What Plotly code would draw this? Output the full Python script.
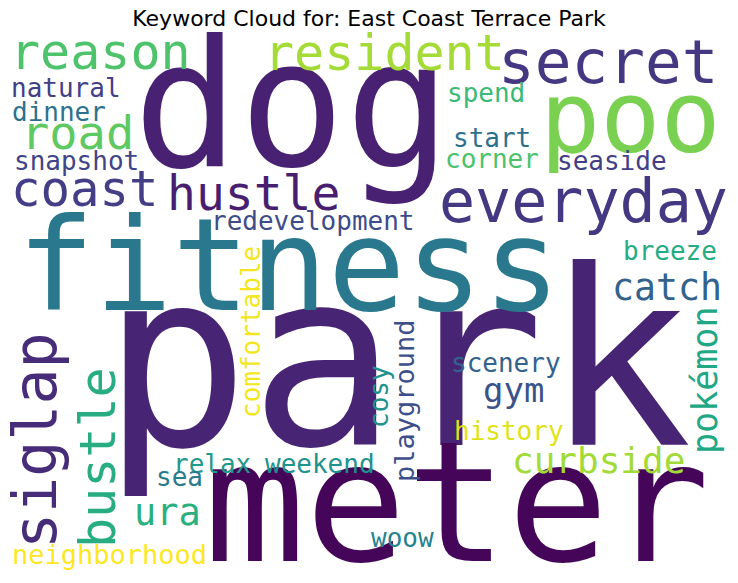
import plotly.graph_objects as go

# word cloud layout (canvas 722 x 542, origin top-left)
words = ["park", "dog", "meter", "fitness", "poo", "secret", "everyday", "siglap",
         "reason", "resident", "bustle", "coast", "hustle", "road", "ura", "catch",
         "curbside", "pokémon", "gym", "playground", "neighborhood", "spend", "start",
         "corner", "seaside", "breeze", "redevelopment", "comfortable", "scenery",
         "history", "cosy", "woow", "weekend", "relax", "sea", "snapshot", "natural",
         "dinner"]
weights = [0.980, 0.704, 0.672, 0.516, 0.400, 0.244, 0.240, 0.240,
           0.200, 0.200, 0.200, 0.196, 0.192, 0.188, 0.148, 0.146,
           0.144, 0.140, 0.136, 0.108, 0.108, 0.104, 0.104,
           0.104, 0.104, 0.104, 0.104, 0.104, 0.104,
           0.104, 0.104, 0.104, 0.104, 0.104, 0.104, 0.104, 0.104,
           0.104]
xpos = [389, 284, 449, 281, 622, 600, 575, 27,
        92, 376, 90, 77, 245, 69, 159, 659,
        590, 697, 505, 396, 101, 478, 484,
        484, 604, 662, 305, 243, 498,
        501, 371, 394, 312, 204, 171, 68, 58,
        51]
ypos = [328, 73, 471, 233, 85, 29, 169, 409,
        20, 21, 426, 157, 161, 100, 480, 255,
        428, 348, 358, 369, 522, 61, 106,
        127, 129, 219, 189, 300, 331,
        399, 365, 506, 432, 432, 445, 129, 56,
        80]
vertical = ["siglap", "bustle", "pokémon", "playground", "comfortable", "cosy"]
colors = ["#482475", "#482173", "#450559", "#2a788e", "#7ad151", "#453781", "#453882", "#472c7a",
          "#4ec36b", "#a5db36", "#27ad81", "#433e85", "#481f70", "#5ec962", "#2ab07f", "#33638d",
          "#a2da37", "#22a785", "#3b528b", "#3c4f8a", "#fde725", "#3aba76", "#2d708e",
          "#4cc26c", "#433e85", "#25ac82", "#3e4c8a", "#f4e61e", "#33638d",
          "#dde318", "#21918c", "#26828e", "#20928c", "#1f9a8a", "#2a7b8e", "#414487", "#424086",
          "#2c728e"]

MAX_FONT = 250

fig = go.Figure()
# invisible trace so the axes exist
fig.add_trace(go.Scatter(x=[0, 722], y=[0, 542], mode="markers",
                         marker=dict(opacity=0), hoverinfo="skip", showlegend=False))

for w, s, x, y, c in zip(words, weights, xpos, ypos, colors):
    fig.add_annotation(
        x=x, y=y, text=w, showarrow=False,
        xanchor="center", yanchor="middle",
        textangle=-90 if w in vertical else 0,
        font=dict(family="DejaVu Sans Mono", size=s * MAX_FONT, color=c),
    )

fig.update_layout(
    width=738, height=583,
    margin=dict(l=8, r=8, t=32, b=9),
    paper_bgcolor="white", plot_bgcolor="white",
    title=dict(text="Keyword Cloud for: East Coast Terrace Park",
               x=0.5, xref="container", y=1 - 18 / 583, yanchor="middle",
               font=dict(family="DejaVu Sans", size=22, color="black")),
    xaxis=dict(range=[0, 722], visible=False, fixedrange=True),
    yaxis=dict(range=[542, 0], visible=False, fixedrange=True),
)

# drop the browser's default body margin so the figure sits at the window corner
fig.write_html("out.html", config={"displayModeBar": False},
               post_script="document.body.style.margin='0';")
